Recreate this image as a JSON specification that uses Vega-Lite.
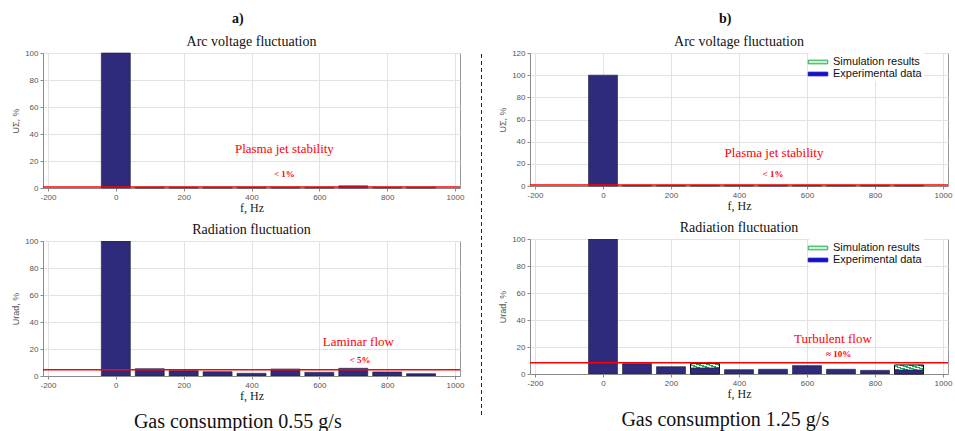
{
  "$schema": "https://vega.github.io/schema/vega-lite/v6.json",
  "background": "white",
  "padding": {"left": 11, "top": 11, "right": 2, "bottom": 0},
  "config": {
    "view": {"stroke": "#9a9a9a", "strokeWidth": 1},
    "axis": {"labelFont": "Liberation Sans", "labelFontSize": 8, "labelColor": "#555", "titleFont": "Liberation Serif", "titleFontSize": 12, "titleFontWeight": "normal", "titleColor": "#222", "gridColor": "#e2e2e2", "domainColor": "#8a8a8a", "tickColor": "#8a8a8a", "tickSize": 3, "labelPadding": 2, "labelOverlap": false},
    "axisY": {"titleFont": "Liberation Sans", "titleFontSize": 9, "titleColor": "#555", "titlePadding": 4},
    "axisX": {"titlePadding": 1},
    "title": {"font": "Liberation Serif", "fontSize": 14, "fontWeight": "normal", "color": "#111"},
    "legend": {"title": null, "orient": "none", "legendX": 279, "legendY": 0, "symbolType": "M-1.5,-0.28H1.5V0.28H-1.5Z", "symbolSize": 169, "symbolOpacity": 1, "symbolStrokeWidth": 1, "labelFont": "Liberation Sans", "labelFontSize": 11, "labelColor": "#111", "rowPadding": 0, "padding": 2, "labelOffset": 8, "fillColor": "white"}
  },
  "resolve": {"scale": {"fill": "independent", "stroke": "independent"}, "legend": {"fill": "independent", "stroke": "independent"}},
  "datasets": {
    "a_arc": [{"f": 0, "v": 100}, {"f": 100, "v": 0.6}, {"f": 200, "v": 0.6}, {"f": 300, "v": 0.6}, {"f": 400, "v": 0.6}, {"f": 500, "v": 0.6}, {"f": 600, "v": 0.6}, {"f": 700, "v": 1.6}, {"f": 800, "v": 0.6}, {"f": 900, "v": 0.6}],
    "a_rad": [{"f": 0, "v": 100}, {"f": 100, "v": 5.4}, {"f": 200, "v": 4}, {"f": 300, "v": 3.2}, {"f": 400, "v": 2}, {"f": 500, "v": 5.2}, {"f": 600, "v": 2.7}, {"f": 700, "v": 5.7}, {"f": 800, "v": 3}, {"f": 900, "v": 1.7}],
    "b_arc": [{"f": 0, "v": 100}, {"f": 100, "v": 0.6}, {"f": 200, "v": 0.6}, {"f": 300, "v": 0.6}, {"f": 400, "v": 0.6}, {"f": 500, "v": 0.6}, {"f": 600, "v": 0.6}, {"f": 700, "v": 0.6}, {"f": 800, "v": 0.6}, {"f": 900, "v": 0.6}],
    "b_rad": [{"f": 0, "v": 100}, {"f": 100, "v": 7.7}, {"f": 200, "v": 5.4}, {"f": 300, "v": 4.5}, {"f": 400, "v": 3.2}, {"f": 500, "v": 3.5}, {"f": 600, "v": 6.2}, {"f": 700, "v": 3.5}, {"f": 800, "v": 2.7}, {"f": 900, "v": 3}],
    "b_rad_sim": [{"f": 300, "v": 7.7}, {"f": 900, "v": 6.7}],
    "legend": [{"series": "Simulation results"}, {"series": "Experimental data"}]
  },
  "spacing": 16,
  "hconcat": [
    {
      "title": {"text": "a)", "fontWeight": "bold", "fontSize": 14, "anchor": "middle", "offset": 9},
      "vconcat": [
        {
          "title": {"text": "Gas consumption 0.55 g/s", "orient": "bottom", "fontSize": 20, "anchor": "middle", "offset": 10},
          "spacing": 8,
          "vconcat": [
            {
              "width": 417, "height": 135,
              "title": {"text": "Arc voltage fluctuation", "offset": 0},
              "layer": [
                {"data": {"name": "a_arc"}, "mark": {"type": "bar", "width": 29, "color": "#2e2a7c", "stroke": "#1c1c3a", "strokeWidth": 0.6},
                 "encoding": {
                   "x": {"field": "f", "type": "quantitative", "scale": {"domain": [-200, 1000], "nice": false}, "axis": {"values": [-200, 0, 200, 400, 600, 800, 1000], "labelExpr": "'' + datum.value", "labelOverlap": false, "title": "f, Hz", "grid": true}},
                   "y": {"field": "v", "type": "quantitative", "scale": {"domain": [0, 100], "nice": false}, "axis": {"values": [0, 20, 40, 60, 80, 100], "tickCount": 6, "labelOverlap": false, "title": "UΣ, %", "grid": true}}}},
                {"data": {"values": [{"v": 0.8}]}, "mark": {"type": "rule", "color": "#ff0000", "strokeWidth": 1.5}, "encoding": {"y": {"field": "v", "type": "quantitative"}}},
                {"data": {"values": [{"f": 497, "v": 29, "label": "Plasma jet stability"}]}, "mark": {"type": "text", "color": "#ff0000", "font": "Liberation Serif", "fontSize": 13}, "encoding": {"x": {"field": "f", "type": "quantitative"}, "y": {"field": "v", "type": "quantitative"}, "text": {"field": "label"}}},
                {"data": {"values": [{"f": 497, "v": 10.4, "label": "< 1%"}]}, "mark": {"type": "text", "color": "#ff0000", "font": "Liberation Serif", "fontSize": 9, "fontWeight": "bold"}, "encoding": {"x": {"field": "f", "type": "quantitative"}, "y": {"field": "v", "type": "quantitative"}, "text": {"field": "label"}}}
              ]
            },
            {
              "width": 417, "height": 135,
              "title": {"text": "Radiation fluctuation", "offset": 0},
              "layer": [
                {"data": {"name": "a_rad"}, "mark": {"type": "bar", "width": 29, "color": "#2e2a7c", "stroke": "#1c1c3a", "strokeWidth": 0.6, "clip": true},
                 "encoding": {
                   "x": {"field": "f", "type": "quantitative", "scale": {"domain": [-200, 1000], "nice": false}, "axis": {"values": [-200, 0, 200, 400, 600, 800, 1000], "labelExpr": "'' + datum.value", "labelOverlap": false, "title": "f, Hz", "grid": true}},
                   "y": {"field": "v", "type": "quantitative", "scale": {"domain": [0, 100], "nice": false}, "axis": {"values": [0, 20, 40, 60, 80, 100], "tickCount": 6, "labelOverlap": false, "title": "Urad, %", "grid": true}}}},
                {"data": {"values": [{"v": 4.7}]}, "mark": {"type": "rule", "color": "#ff0000", "strokeWidth": 1.5}, "encoding": {"y": {"field": "v", "type": "quantitative"}}},
                {"data": {"values": [{"f": 715, "v": 25.4, "label": "Laminar flow"}]}, "mark": {"type": "text", "color": "#ff0000", "font": "Liberation Serif", "fontSize": 13}, "encoding": {"x": {"field": "f", "type": "quantitative"}, "y": {"field": "v", "type": "quantitative"}, "text": {"field": "label"}}},
                {"data": {"values": [{"f": 720, "v": 11.9, "label": "< 5%"}]}, "mark": {"type": "text", "color": "#ff0000", "font": "Liberation Serif", "fontSize": 9, "fontWeight": "bold"}, "encoding": {"x": {"field": "f", "type": "quantitative"}, "y": {"field": "v", "type": "quantitative"}, "text": {"field": "label"}}}
              ]
            }
          ]
        }
      ]
    },
    {
      "width": 1, "height": 362,
      "title": {"text": " ", "fontSize": 14, "offset": 12},
      "view": {"stroke": null},
      "data": {"values": [{"x": 0, "a": 0, "b": 1}]},
      "mark": {"type": "rule", "strokeDash": [4, 3], "color": "#222", "strokeWidth": 1},
      "encoding": {
        "x": {"field": "x", "type": "quantitative", "axis": null, "scale": {"domain": [-1, 1]}},
        "y": {"field": "a", "type": "quantitative", "axis": null, "scale": {"domain": [0, 1]}},
        "y2": {"field": "b"}
      }
    },
    {
      "title": {"text": "b)", "fontWeight": "bold", "fontSize": 14, "anchor": "middle", "offset": 9},
      "resolve": {"scale": {"fill": "independent", "stroke": "independent"}, "legend": {"fill": "independent", "stroke": "independent"}},
      "vconcat": [
        {
          "title": {"text": "Gas consumption 1.25 g/s", "orient": "bottom", "fontSize": 20, "anchor": "middle", "offset": 10},
          "spacing": 8,
          "resolve": {"scale": {"fill": "independent", "stroke": "independent"}, "legend": {"fill": "independent", "stroke": "independent"}},
          "vconcat": [
            {
              "width": 418, "height": 133,
              "title": {"text": "Arc voltage fluctuation", "offset": 0},
              "layer": [
                {"data": {"name": "b_arc"}, "mark": {"type": "bar", "width": 29, "color": "#2e2a7c", "stroke": "#1c1c3a", "strokeWidth": 0.6},
                 "encoding": {
                   "x": {"field": "f", "type": "quantitative", "scale": {"domain": [-200, 1000], "nice": false}, "axis": {"values": [-200, 0, 200, 400, 600, 800, 1000], "labelExpr": "'' + datum.value", "labelOverlap": false, "title": "f, Hz", "grid": true}},
                   "y": {"field": "v", "type": "quantitative", "scale": {"domain": [0, 120], "nice": false}, "axis": {"values": [0, 20, 40, 60, 80, 100, 120], "tickCount": 7, "labelOverlap": false, "title": "UΣ, %", "grid": true}}}},
                {"data": {"values": [{"v": 0.8}]}, "mark": {"type": "rule", "color": "#ff0000", "strokeWidth": 1.5}, "encoding": {"y": {"field": "v", "type": "quantitative"}}},
                {"data": {"values": [{"f": 503, "v": 29.8, "label": "Plasma jet stability"}]}, "mark": {"type": "text", "color": "#ff0000", "font": "Liberation Serif", "fontSize": 13}, "encoding": {"x": {"field": "f", "type": "quantitative"}, "y": {"field": "v", "type": "quantitative"}, "text": {"field": "label"}}},
                {"data": {"values": [{"f": 500, "v": 10.8, "label": "< 1%"}]}, "mark": {"type": "text", "color": "#ff0000", "font": "Liberation Serif", "fontSize": 9, "fontWeight": "bold"}, "encoding": {"x": {"field": "f", "type": "quantitative"}, "y": {"field": "v", "type": "quantitative"}, "text": {"field": "label"}}},
                {"data": {"name": "legend"}, "mark": {"type": "point", "opacity": 0},
                 "encoding": {
                   "fill": {"field": "series", "type": "nominal", "scale": {"domain": ["Simulation results", "Experimental data"], "range": ["#c8f0d4", "#1410c8"]}},
                   "stroke": {"field": "series", "type": "nominal", "scale": {"domain": ["Simulation results", "Experimental data"], "range": ["#1fae4e", "#1410c8"]}}}}
              ]
            },
            {
              "width": 418, "height": 135,
              "title": {"text": "Radiation fluctuation", "offset": 0},
              "layer": [
                {"data": {"name": "b_rad_sim"}, "mark": {"type": "bar", "width": 29, "stroke": "#000", "strokeWidth": 1, "fill": {"gradient": "linear", "x1": 0, "y1": 1, "x2": 1, "y2": 0, "stops": [{"offset": 0, "color": "#ffffff"}, {"offset": 0.08, "color": "#ffffff"}, {"offset": 0.08, "color": "#1fae4e"}, {"offset": 0.16, "color": "#1fae4e"}, {"offset": 0.16, "color": "#ffffff"}, {"offset": 0.24, "color": "#ffffff"}, {"offset": 0.24, "color": "#1fae4e"}, {"offset": 0.32, "color": "#1fae4e"}, {"offset": 0.32, "color": "#ffffff"}, {"offset": 0.4, "color": "#ffffff"}, {"offset": 0.4, "color": "#1fae4e"}, {"offset": 0.48, "color": "#1fae4e"}, {"offset": 0.48, "color": "#ffffff"}, {"offset": 0.56, "color": "#ffffff"}, {"offset": 0.56, "color": "#1fae4e"}, {"offset": 0.64, "color": "#1fae4e"}, {"offset": 0.64, "color": "#ffffff"}, {"offset": 0.72, "color": "#ffffff"}, {"offset": 0.72, "color": "#1fae4e"}, {"offset": 0.8, "color": "#1fae4e"}, {"offset": 0.8, "color": "#ffffff"}, {"offset": 0.88, "color": "#ffffff"}, {"offset": 0.88, "color": "#1fae4e"}, {"offset": 0.96, "color": "#1fae4e"}, {"offset": 0.96, "color": "#ffffff"}, {"offset": 1, "color": "#ffffff"}]}},
                 "encoding": {
                   "x": {"field": "f", "type": "quantitative", "scale": {"domain": [-200, 1000], "nice": false}, "axis": {"values": [-200, 0, 200, 400, 600, 800, 1000], "labelExpr": "'' + datum.value", "labelOverlap": false, "title": "f, Hz", "grid": true}},
                   "y": {"field": "v", "type": "quantitative", "scale": {"domain": [0, 100], "nice": false}, "axis": {"values": [0, 20, 40, 60, 80, 100], "tickCount": 6, "labelOverlap": false, "title": "Urad, %", "grid": true}}}},
                {"data": {"name": "b_rad"}, "mark": {"type": "bar", "width": 29, "color": "#2e2a7c", "stroke": "#1c1c3a", "strokeWidth": 0.6, "clip": true},
                 "encoding": {
                   "x": {"field": "f", "type": "quantitative"},
                   "y": {"field": "v", "type": "quantitative"}}},
                {"data": {"values": [{"v": 8.4}]}, "mark": {"type": "rule", "color": "#ff0000", "strokeWidth": 1.5}, "encoding": {"y": {"field": "v", "type": "quantitative"}}},
                {"data": {"values": [{"f": 676, "v": 26, "label": "Turbulent flow"}]}, "mark": {"type": "text", "color": "#ff0000", "font": "Liberation Serif", "fontSize": 13}, "encoding": {"x": {"field": "f", "type": "quantitative"}, "y": {"field": "v", "type": "quantitative"}, "text": {"field": "label"}}},
                {"data": {"values": [{"f": 693, "v": 15, "label": "≈ 10%"}]}, "mark": {"type": "text", "color": "#ff0000", "font": "Liberation Serif", "fontSize": 9, "fontWeight": "bold"}, "encoding": {"x": {"field": "f", "type": "quantitative"}, "y": {"field": "v", "type": "quantitative"}, "text": {"field": "label"}}},
                {"data": {"name": "legend"}, "mark": {"type": "point", "opacity": 0},
                 "encoding": {
                   "fill": {"field": "series", "type": "nominal", "scale": {"domain": ["Simulation results", "Experimental data"], "range": ["#c8f0d4", "#1410c8"]}},
                   "stroke": {"field": "series", "type": "nominal", "scale": {"domain": ["Simulation results", "Experimental data"], "range": ["#1fae4e", "#1410c8"]}}}}
              ]
            }
          ]
        }
      ]
    }
  ]
}
